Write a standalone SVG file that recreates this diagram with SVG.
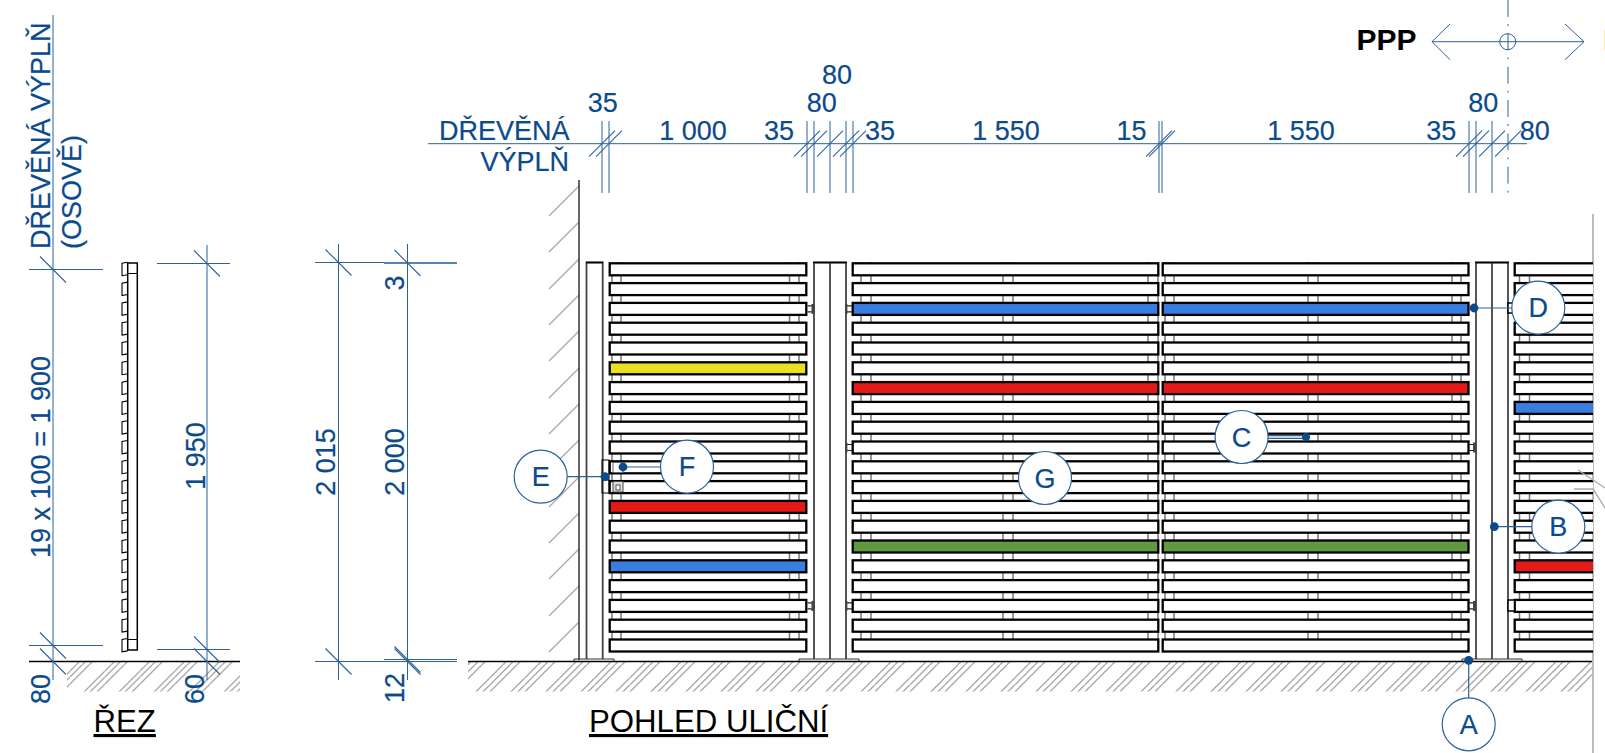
<svg xmlns="http://www.w3.org/2000/svg" xmlns:xlink="http://www.w3.org/1999/xlink" width="1605" height="753" viewBox="0 0 1605 753">
<style>
text{font-family:"Liberation Sans",Arial,sans-serif}
.t{font-size:27px;fill:#0b4a8c;stroke:#0b4a8c;stroke-width:.2}
.m{text-anchor:middle}
.e{text-anchor:end}
.d{stroke:#2c6299;stroke-width:1;fill:none}
.ds{stroke:#2c6299;stroke-width:1.1;fill:none}
.g{stroke:#aaa;stroke-width:1.4;fill:none}
.p{stroke:#444;stroke-width:1.8;fill:none}
.k{stroke:#000;stroke-width:1.5;fill:none}
.s{stroke:#000;stroke-width:2.3;fill:#fff}
.h{fill:#000;font-size:31.2px}
.c{fill:#fff;stroke:#2c6299;stroke-width:1.2}
.l{stroke:#2c6299;stroke-width:1.2;fill:none}
.dot{fill:#0b4a8c}
</style>
<defs>
<pattern id="hm" patternUnits="userSpaceOnUse" width="35" height="35"><path d="M0 12.7L12.7 0M0 19.7L19.7 0M0 26.7L26.7 0M12.7 35L35 12.7M19.7 35L35 19.7M26.7 35L35 26.7" stroke="#aaa" stroke-width="1.4" fill="none"/></pattern>
<pattern id="hs" patternUnits="userSpaceOnUse" width="35" height="35"><path d="M0 6L6 0M0 12L12 0M0 19L19 0M6 35L35 6M12 35L35 12M19 35L35 19" stroke="#aaa" stroke-width="1.4" fill="none"/></pattern>
<rect id="sL" x="609.7" width="196.6" height="12"/>
<rect id="sA" x="852.7" width="305.6" height="12"/>
<rect id="sB" x="1162.7" width="305.8" height="12"/>
<rect id="sR" x="1514.7" width="90" height="12"/>
<path id="pr" d="M127.7 262.3L122 263.3V275.7L127.7 274.7" class="k" style="stroke-width:1.1"/>
<path id="sl" d="M-13 13L13-13" class="ds"/>
<g id="bl"><path d="M0-3H5M0 3H5" stroke="#222" stroke-width="1.2" fill="none"/><rect x="4" y="-5" width="3.2" height="10" fill="#444"/></g>
<g id="br"><path d="M0-3H-5M0 3H-5" stroke="#222" stroke-width="1.2" fill="none"/><rect x="-7" y="-5" width="2.4" height="10" fill="#444"/></g>
</defs>
<rect width="1605" height="753" fill="#fff"/>

<g id="ground">
<rect x="468" y="661.5" width="1125" height="30" fill="url(#hm)"/>
<rect x="67" y="661.5" width="173" height="30" fill="url(#hs)"/>
<path d="M549 216L579 186M549 252L579 222M549 289L579 259M549 325L579 295M549 361L579 331M549 398L579 368M549 434L579 404M549 470L579 440M549 507L579 477M549 543L579 513M549 579L579 549M549 616L579 586M549 652L579 622" class="g"/>
<path d="M468 661.5H1593M29 661.5H240" class="k"/>
<path d="M579 180V660" stroke="#333" stroke-width="1.5" fill="none"/>
<path d="M1593 214V753" stroke="#bbb" stroke-width="2" fill="none"/>
</g>

<g id="section">
<rect x="127.7" y="263" width="9.6" height="387" class="k" style="fill:#fff"/>
<path d="M127.7 273.5H137.3M127.7 639.5H137.3" class="k" style="stroke-width:1.1"/>
<use xlink:href="#pr"/><use xlink:href="#pr" y="19.8"/><use xlink:href="#pr" y="39.6"/><use xlink:href="#pr" y="59.4"/><use xlink:href="#pr" y="79.2"/><use xlink:href="#pr" y="99"/><use xlink:href="#pr" y="118.8"/><use xlink:href="#pr" y="138.6"/><use xlink:href="#pr" y="158.4"/><use xlink:href="#pr" y="178.2"/><use xlink:href="#pr" y="198"/><use xlink:href="#pr" y="217.8"/><use xlink:href="#pr" y="237.6"/><use xlink:href="#pr" y="257.4"/><use xlink:href="#pr" y="277.2"/><use xlink:href="#pr" y="297"/><use xlink:href="#pr" y="316.8"/><use xlink:href="#pr" y="336.6"/><use xlink:href="#pr" y="356.4"/><use xlink:href="#pr" y="376.2"/>
</g>

<g id="posts">
<path d="M586.5 659V262.5H602.7V659M814 659V262.5H846V659M830 262.5V659M1476 659V262.5H1508V659M1492 262.5V659" class="p"/>
<path d="M586 262.5H603M813 262.5H847M1475 262.5H1509" stroke="#000" stroke-width="1.6" fill="none"/>
<path d="M574 661V659H614V661M799 661V659H859V661M1462 661V659H1522V661" stroke="#333" stroke-width="1" fill="none"/>
</g>

<g id="battens" class="p" style="stroke:#777;stroke-width:1.5">
<path d="M612 262V652M621 262V652M789.5 262V652M799 262V652M861 262V652M871 262V652M1003 262V652M1013 262V652M1148 262V652M1158 262V652M1165 262V652M1174 262V652M1308 262V652M1318 262V652M1452 262V652M1461 262V652M1519.5 262V652M1529.5 262V652"/>
</g>

<g id="panel-left" class="s">
<use xlink:href="#sL" y="263.3"/><use xlink:href="#sL" y="283.1"/><use xlink:href="#sL" y="302.9"/><use xlink:href="#sL" y="322.7"/><use xlink:href="#sL" y="342.5"/><use xlink:href="#sL" y="362.3" fill="#e8e020"/><use xlink:href="#sL" y="382.1"/><use xlink:href="#sL" y="401.9"/><use xlink:href="#sL" y="421.7"/><use xlink:href="#sL" y="441.5"/><use xlink:href="#sL" y="461.3"/><use xlink:href="#sL" y="481.1"/><use xlink:href="#sL" y="500.9" fill="#e61919"/><use xlink:href="#sL" y="520.7"/><use xlink:href="#sL" y="540.5"/><use xlink:href="#sL" y="560.3" fill="#3a7de0"/><use xlink:href="#sL" y="580.1"/><use xlink:href="#sL" y="599.9"/><use xlink:href="#sL" y="619.7"/><use xlink:href="#sL" y="639.5"/>
</g>
<g id="panel-mid-a" class="s">
<use xlink:href="#sA" y="263.3"/><use xlink:href="#sA" y="283.1"/><use xlink:href="#sA" y="302.9" fill="#3a7de0"/><use xlink:href="#sA" y="322.7"/><use xlink:href="#sA" y="342.5"/><use xlink:href="#sA" y="362.3"/><use xlink:href="#sA" y="382.1" fill="#e61919"/><use xlink:href="#sA" y="401.9"/><use xlink:href="#sA" y="421.7"/><use xlink:href="#sA" y="441.5"/><use xlink:href="#sA" y="461.3"/><use xlink:href="#sA" y="481.1"/><use xlink:href="#sA" y="500.9"/><use xlink:href="#sA" y="520.7"/><use xlink:href="#sA" y="540.5" fill="#619a3e"/><use xlink:href="#sA" y="560.3"/><use xlink:href="#sA" y="580.1"/><use xlink:href="#sA" y="599.9"/><use xlink:href="#sA" y="619.7"/><use xlink:href="#sA" y="639.5"/>
</g>
<g id="panel-mid-b" class="s">
<use xlink:href="#sB" y="263.3"/><use xlink:href="#sB" y="283.1"/><use xlink:href="#sB" y="302.9" fill="#3a7de0"/><use xlink:href="#sB" y="322.7"/><use xlink:href="#sB" y="342.5"/><use xlink:href="#sB" y="362.3"/><use xlink:href="#sB" y="382.1" fill="#e61919"/><use xlink:href="#sB" y="401.9"/><use xlink:href="#sB" y="421.7"/><use xlink:href="#sB" y="441.5"/><use xlink:href="#sB" y="461.3"/><use xlink:href="#sB" y="481.1"/><use xlink:href="#sB" y="500.9"/><use xlink:href="#sB" y="520.7"/><use xlink:href="#sB" y="540.5" fill="#619a3e"/><use xlink:href="#sB" y="560.3"/><use xlink:href="#sB" y="580.1"/><use xlink:href="#sB" y="599.9"/><use xlink:href="#sB" y="619.7"/><use xlink:href="#sB" y="639.5"/>
</g>
<svg x="0" y="0" width="1593" height="753" viewBox="0 0 1593 753" overflow="hidden">
<g id="panel-right" class="s">
<use xlink:href="#sR" y="263.3"/><use xlink:href="#sR" y="283.1"/><use xlink:href="#sR" y="302.9"/><use xlink:href="#sR" y="322.7"/><use xlink:href="#sR" y="342.5"/><use xlink:href="#sR" y="362.3"/><use xlink:href="#sR" y="382.1"/><use xlink:href="#sR" y="401.9" fill="#3a7de0"/><use xlink:href="#sR" y="421.7"/><use xlink:href="#sR" y="441.5"/><use xlink:href="#sR" y="461.3"/><use xlink:href="#sR" y="481.1"/><use xlink:href="#sR" y="500.9"/><use xlink:href="#sR" y="520.7"/><use xlink:href="#sR" y="540.5"/><use xlink:href="#sR" y="560.3" fill="#e61919"/><use xlink:href="#sR" y="580.1"/><use xlink:href="#sR" y="599.9"/><use xlink:href="#sR" y="619.7"/><use xlink:href="#sR" y="639.5"/>
</g>
</svg>
<path d="M1578 470L1605 488M1574 489H1593L1605 508" class="g"/>

<g id="hardware">
<use xlink:href="#bl" x="807.5" y="308.9"/><use xlink:href="#br" x="852" y="308.9"/>
<use xlink:href="#br" x="852" y="447.5"/>
<use xlink:href="#bl" x="807.5" y="605.9"/><use xlink:href="#br" x="852" y="605.9"/>
<use xlink:href="#bl" x="1469" y="447.5"/><use xlink:href="#bl" x="1469" y="605.9"/>
<rect x="1508" y="600" width="6.5" height="11" class="k" style="fill:#fff"/>
<rect x="1508" y="303" width="6.5" height="10" class="k" style="fill:#fff"/>
<rect x="602" y="460" width="7" height="33" class="k" style="stroke-width:1"/>
<path d="M602 480H609" class="k" style="stroke-width:1"/>
<rect x="613" y="462.5" width="10" height="10" fill="#fff" stroke="#666"/>
<rect x="613" y="481.5" width="10" height="10.5" fill="#ddd" stroke="#444"/>
<rect x="616" y="485" width="4" height="5" fill="#fff" stroke="#333" stroke-width="0.8"/>
</g>

<g id="connectors">
<g id="dim-top" class="d">
<path d="M428 143.7H1527M602 121V193M609 121V193M807 121V193M814 121V193M830 121V193M846 121V193M853 121V193M1159 121V193M1162 121V193M1469 121V193M1476 121V193M1492 121V193"/>
</g>
<g id="dim-slashes">
<use xlink:href="#sl" x="602" y="143.7"/><use xlink:href="#sl" x="609" y="143.7"/><use xlink:href="#sl" x="807" y="143.7"/><use xlink:href="#sl" x="814" y="143.7"/><use xlink:href="#sl" x="830" y="143.7"/><use xlink:href="#sl" x="846" y="143.7"/><use xlink:href="#sl" x="853" y="143.7"/><use xlink:href="#sl" x="1159" y="143.7"/><use xlink:href="#sl" x="1162" y="143.7"/><use xlink:href="#sl" x="1469" y="143.7"/><use xlink:href="#sl" x="1476" y="143.7"/><use xlink:href="#sl" x="1492" y="143.7"/><use xlink:href="#sl" x="1508" y="143.7"/>
</g>
<path d="M53 15V680M29 269.5H103M29 645.5H103" class="d"/>
<use xlink:href="#sl" x="53" y="269.5" transform="rotate(90 53 269.5)"/><use xlink:href="#sl" x="53" y="645.5" transform="rotate(90 53 645.5)"/><use xlink:href="#sl" x="53" y="661.5" transform="rotate(90 53 661.5)"/>
<path d="M207 245V680M157 263.5H230M157 649.5H230" class="d"/>
<use xlink:href="#sl" x="207" y="263.5" transform="rotate(90 207 263.5)"/><use xlink:href="#sl" x="207" y="649.5" transform="rotate(90 207 649.5)"/><use xlink:href="#sl" x="207" y="661.5" transform="rotate(90 207 661.5)"/>
<path d="M338.5 244V680M315 262.5H384M315 661.5H384" class="d"/>
<use xlink:href="#sl" x="338.5" y="262.5" transform="rotate(90 338.5 262.5)"/><use xlink:href="#sl" x="338.5" y="661.5" transform="rotate(90 338.5 661.5)"/>
<path d="M407.5 244V680M384 659.5H457M384 661.5H457" class="d"/>
<path d="M384 263H457" stroke="#1f5a96" stroke-width="1.5" fill="none"/>
<use xlink:href="#sl" x="407.5" y="263" transform="rotate(90 407.5 263)"/><use xlink:href="#sl" x="407.5" y="659.5" transform="rotate(90 407.5 659.5)"/><use xlink:href="#sl" x="407.5" y="661.5" transform="rotate(90 407.5 661.5)"/>
<path d="M1508 0V193" class="d" stroke-dasharray="17 7 2 7.33"/>
<path d="M1450 24L1432 41.7L1450 59.7M1565 24L1584 41.7L1565 59.7M1432 41.7H1584" class="d"/>
<circle cx="1507.7" cy="41.7" r="8" class="d"/>
<path d="M1474 308H1512M1494.3 526.7H1532M1468.7 660V698M605 476.7H566M623 467H661" class="l"/>
<rect x="1267" y="435.5" width="39" height="3" fill="#c5d3e2" stroke="#2c6299" stroke-width="1"/>
<circle cx="1474" cy="308" r="4.4" class="dot"/><circle cx="1494.3" cy="526.7" r="4.4" class="dot"/><circle cx="1468.7" cy="660.3" r="4.4" class="dot"/><circle cx="605" cy="476.7" r="4.4" class="dot"/><circle cx="623" cy="467" r="4.4" class="dot"/><circle cx="1306" cy="437" r="4" class="dot"/>
</g>

<g id="node-A"><circle cx="1468.7" cy="724.3" r="26.5" class="c"/><text x="1468.7" y="733.8" class="t m">A</text></g>
<g id="node-B"><circle cx="1558.3" cy="526.7" r="26.5" class="c"/><text x="1558.3" y="536.2" class="t m">B</text></g>
<g id="node-C"><circle cx="1241.6" cy="437" r="26.5" class="c"/><text x="1241.6" y="446.5" class="t m">C</text></g>
<g id="node-D"><circle cx="1538.3" cy="307.7" r="26.5" class="c"/><text x="1538.3" y="317.2" class="t m">D</text></g>
<g id="node-E"><circle cx="540.7" cy="476.7" r="26.5" class="c"/><text x="540.7" y="486.2" class="t m">E</text></g>
<g id="node-F"><circle cx="687" cy="466.7" r="26.5" class="c"/><text x="687" y="476.2" class="t m">F</text></g>
<g id="node-G"><circle cx="1045" cy="478" r="26.5" class="c"/><text x="1045" y="487.5" class="t m">G</text></g>

<g id="labels">
<text x="602.7" y="112" class="t m">35</text>
<text x="693" y="140" class="t m">1 000</text>
<text x="779" y="140" class="t m">35</text>
<text x="837" y="84" class="t m">80</text>
<text x="821.7" y="112" class="t m">80</text>
<text x="880" y="140" class="t m">35</text>
<text x="1006" y="140" class="t m">1 550</text>
<text x="1131.5" y="140" class="t m">15</text>
<text x="1301" y="140" class="t m">1 550</text>
<text x="1441.3" y="140" class="t m">35</text>
<text x="1483.3" y="112" class="t m">80</text>
<text x="1534.7" y="140" class="t m">80</text>
<text x="569.5" y="140" class="t e">DŘEVĚNÁ</text>
<text x="569" y="170.7" class="t e">VÝPLŇ</text>
<text transform="translate(50 249) rotate(-90)" class="t">DŘEVĚNÁ VÝPLŇ</text>
<text transform="translate(81 249) rotate(-90)" class="t">(OSOVĚ)</text>
<text transform="translate(50 457) rotate(-90)" class="t m">19 x 100 = 1 900</text>
<text transform="translate(49.5 689) rotate(-90)" class="t m">80</text>
<text transform="translate(205 456) rotate(-90)" class="t m">1 950</text>
<text transform="translate(203.5 689) rotate(-90)" class="t m">60</text>
<text transform="translate(335 462) rotate(-90)" class="t m">2 015</text>
<text transform="translate(404 462) rotate(-90)" class="t m">2 000</text>
<text transform="translate(404 283) rotate(-90)" class="t m">3</text>
<text transform="translate(404 688) rotate(-90)" class="t m">12</text>
<text x="1356.5" y="50" font-size="30" font-weight="700" fill="#000">PPP</text>
<text x="1603" y="50" font-size="30" font-weight="700" fill="#000">PPP</text>
<text x="93.5" y="732" class="h" text-decoration="underline">ŘEZ</text>
<text x="589" y="732" class="h" text-decoration="underline">POHLED ULIČNÍ</text>
</g>
</svg>
